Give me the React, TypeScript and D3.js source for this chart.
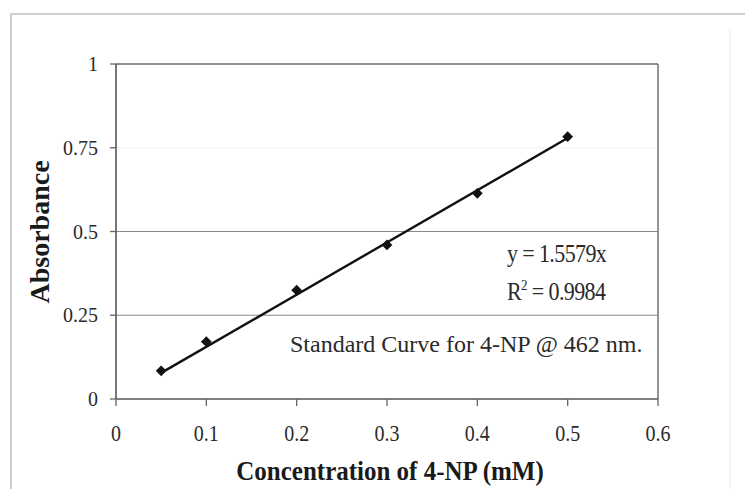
import React from "react";
import * as d3 from "d3";

const concentrations = [0.05, 0.1, 0.2, 0.3, 0.4, 0.5];
const absorbances = [0.084, 0.171, 0.325, 0.46, 0.614, 0.783];
const slope = 1.5579;
const xTicks = [0, 0.1, 0.2, 0.3, 0.4, 0.5, 0.6];
const yTicks = [0, 0.25, 0.5, 0.75, 1];
const xTitle = "Concentration of 4-NP (mM)";
const yTitle = "Absorbance";
const eqText = "y = 1.5579x";
const r2Value = "0.9984";
const noteText = "Standard Curve for 4-NP @ 462 nm.";

const W = 745;
const H = 489;
const M = { left: 116, right: 658, top: 64, bottom: 399 };
const serif = "'Liberation Serif', 'Times New Roman', serif";
const textColor = "#2a2a2a";

export default function App() {
  const x = d3.scaleLinear().domain([0, 0.6]).range([M.left, M.right]);
  const y = d3.scaleLinear().domain([0, 1]).range([M.bottom, M.top]);
  const trend = d3
    .line<number>()
    .x((d) => x(d))
    .y((d) => y(slope * d));
  const fmt = (v: number) => String(v);
  const marker = d3.symbol().type(d3.symbolSquare).size(58)();

  return (
    <svg
      width={W}
      height={H}
      style={{ position: "absolute", left: 0, top: 0, background: "#fff" }}
    >
      <rect x={0} y={0} width={W} height={H} fill="#fff" />
      {/* outer chart frame (faint) */}
      <line x1={10} y1={14} x2={745} y2={14} stroke="#cfcfcf" strokeWidth={2} />
      <line x1={11} y1={14} x2={11} y2={489} stroke="#cfcfcf" strokeWidth={2} />
      <line x1={730} y1={30} x2={730} y2={489} stroke="#f2f2f2" strokeWidth={2} />

      {/* gridlines */}
      {yTicks
        .filter((t) => t > 0 && t < 1)
        .map((t) => (
          <line
            key={"g" + t}
            x1={M.left}
            x2={M.right}
            y1={y(t)}
            y2={y(t)}
            stroke={t === 0.75 ? "#f0f0f0" : "#8a8a8a"}
            strokeWidth={1.2}
          />
        ))}

      {/* plot border */}
      <line x1={M.left} x2={M.right} y1={M.top} y2={M.top} stroke="#6a6a6a" strokeWidth={1.6} />
      <line x1={M.right} x2={M.right} y1={M.top} y2={M.bottom} stroke="#7a7a7a" strokeWidth={1.6} />
      {/* axes */}
      <line x1={M.left} x2={M.right} y1={M.bottom} y2={M.bottom} stroke="#555" strokeWidth={1.6} />
      <line x1={M.left} x2={M.left} y1={M.top} y2={M.bottom} stroke="#555" strokeWidth={1.6} />

      {/* x ticks */}
      {xTicks.map((t) => (
        <g key={"x" + t}>
          <line x1={x(t)} x2={x(t)} y1={M.bottom} y2={M.bottom + 7} stroke="#666" strokeWidth={1.3} />
          <text
            transform={`translate(${x(t)},441) scale(1,1.2)`}
            textAnchor="middle"
            fontFamily={serif}
            fontSize={20}
            fill={textColor}
          >
            {fmt(t)}
          </text>
        </g>
      ))}

      {/* y ticks */}
      {yTicks.map((t) => (
        <g key={"y" + t}>
          <line x1={M.left - 6} x2={M.left} y1={y(t)} y2={y(t)} stroke="#666" strokeWidth={1.3} />
          <text
            transform={`translate(98,${y(t) + 7}) scale(1,1.1)`}
            textAnchor="end"
            fontFamily={serif}
            fontSize={20}
            fill={textColor}
          >
            {fmt(t)}
          </text>
        </g>
      ))}

      {/* trendline */}
      <path
        d={trend([concentrations[0], concentrations[concentrations.length - 1]]) || ""}
        stroke="#111"
        strokeWidth={2.4}
        fill="none"
      />

      {/* markers */}
      {concentrations.map((c, i) => (
        <path
          key={"p" + i}
          d={marker || ""}
          transform={`translate(${x(c)},${y(absorbances[i])}) rotate(45)`}
          fill="#111"
        />
      ))}

      {/* annotations */}
      <text
        transform="translate(507,262) scale(1,1.15)"
        fontFamily={serif}
        fontSize={22}
        fill={textColor}
        letterSpacing={-0.6}
      >
        {eqText}
      </text>
      <text
        transform="translate(507,300) scale(1,1.15)"
        fontFamily={serif}
        fontSize={22}
        fill={textColor}
        letterSpacing={-0.6}
      >
        R<tspan dy={-9} fontSize={13}>2</tspan>
        <tspan dy={9}>{" = " + r2Value}</tspan>
      </text>
      <text
        transform="translate(290,352)"
        fontFamily={serif}
        fontSize={24}
        fill={textColor}
      >
        {noteText}
      </text>

      {/* axis titles */}
      <text
        transform="translate(390,480) scale(1,1.1)"
        textAnchor="middle"
        fontFamily={serif}
        fontWeight="bold"
        fontSize={25}
        fill="#1a1a1a"
      >
        {xTitle}
      </text>
      <text
        transform="translate(49,232) rotate(-90)"
        textAnchor="middle"
        fontFamily={serif}
        fontWeight="bold"
        fontSize={28}
        fill="#1a1a1a"
      >
        {yTitle}
      </text>
    </svg>
  );
}
